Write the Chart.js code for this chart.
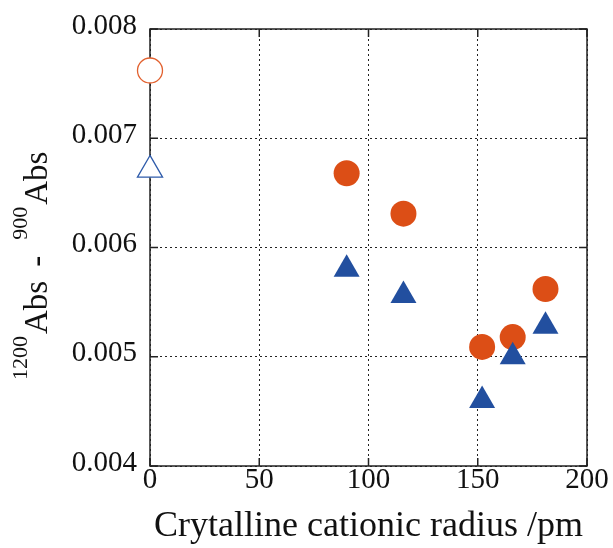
<!DOCTYPE html>
<html>
<head>
<meta charset="utf-8">
<script src="https://cdn.jsdelivr.net/npm/chart.js@4/dist/chart.umd.min.js"></script>
<style>
  html, body { margin: 0; padding: 0; background: #fff; }
  #wrap { width: 613px; height: 548px; }
</style>
</head>
<body>
<div id="wrap"><canvas id="chart" width="613" height="548"></canvas></div>
<script>
// Data
const radiusX     = [90, 116, 152, 166, 181];
const circleY     = [0.00668, 0.00631, 0.00509, 0.00518, 0.00562];
const triangleY   = [0.00580, 0.00556, 0.00460, 0.00500, 0.00528];
const refX        = [0];
const refCircleY  = [0.00762];
const refTriangleY = [0.00671];
const xTicks = [0, 50, 100, 150, 200];
const yTicks = [0.004, 0.005, 0.006, 0.007, 0.008];

const SERIF = "'Liberation Serif', 'Times New Roman', serif";
const ORANGE = '#DC4E16';
const BLUE = '#224F9F';

function pts(xs, ys) { return xs.map((x, i) => ({ x: x, y: ys[i] })); }

// frame + inward tick marks
const framePlugin = {
  id: 'frame',
  beforeDatasetsDraw(chart) {
    const { ctx, chartArea: a, scales } = chart;
    ctx.save();
    ctx.strokeStyle = '#222';
    ctx.lineWidth = 1.5;
    ctx.strokeRect(a.left, a.top, a.right - a.left, a.bottom - a.top);
    ctx.beginPath();
    yTicks.forEach(v => {
      const y = scales.y.getPixelForValue(v);
      ctx.moveTo(a.left, y);  ctx.lineTo(a.left + 8, y);
      ctx.moveTo(a.right, y); ctx.lineTo(a.right - 8, y);
    });
    xTicks.forEach(v => {
      const x = scales.x.getPixelForValue(v);
      ctx.moveTo(x, a.bottom); ctx.lineTo(x, a.bottom - 8);
      ctx.moveTo(x, a.top);    ctx.lineTo(x, a.top + 8);
    });
    ctx.stroke();
    ctx.restore();
  }
};

// y title with superscripts: 1200Abs - 900Abs
const yTitlePlugin = {
  id: 'ytitle',
  afterDraw(chart) {
    const { ctx, chartArea: a } = chart;
    const big = '33px ' + SERIF, small = '22px ' + SERIF;
    const parts = [
      { t: '1200', f: small, dy: -20, gap: 2 },
      { t: 'Abs', f: big, dy: 0, gap: 14 },
      { t: '-', f: big, dy: 0, gap: 16 },
      { t: '900', f: small, dy: -20, gap: 2 },
      { t: 'Abs', f: big, dy: 0, gap: 0 }
    ];
    ctx.save();
    ctx.fillStyle = '#111';
    ctx.textBaseline = 'alphabetic';
    ctx.translate(47, a.bottom - 86);
    ctx.rotate(-Math.PI / 2);
    let x = 0;
    parts.forEach(p => {
      ctx.font = p.f;
      ctx.fillText(p.t, x, p.dy);
      x += ctx.measureText(p.t).width + p.gap;
    });
    ctx.restore();
  }
};

const gridOpts = { color: '#222', lineWidth: 1, drawTicks: false };
const borderOpts = { display: false, dash: [2, 3] };

new Chart(document.getElementById('chart'), {
  type: 'scatter',
  data: {
    datasets: [
      { data: pts(radiusX, triangleY), pointStyle: 'triangle', pointRadius: 15,
        backgroundColor: BLUE, borderColor: BLUE, borderWidth: 0, clip: false },
      { data: pts(radiusX, circleY), pointStyle: 'circle', pointRadius: 13,
        backgroundColor: ORANGE, borderColor: ORANGE, borderWidth: 0, clip: false },
      { data: pts(refX, refTriangleY), pointStyle: 'triangle', pointRadius: 14.5,
        backgroundColor: '#fff', borderColor: '#2E5BAA', borderWidth: 1.3, clip: false },
      { data: pts(refX, refCircleY), pointStyle: 'circle', pointRadius: 12.5,
        backgroundColor: '#fff', borderColor: '#E2612F', borderWidth: 1.3, clip: false }
    ]
  },
  options: {
    responsive: false,
    animation: false,
    layout: { padding: { left: 0, right: 26, top: 29, bottom: 0 } },
    plugins: { legend: { display: false }, tooltip: { enabled: false } },
    scales: {
      x: {
        type: 'linear', min: 0, max: 200,
        afterBuildTicks: s => { s.ticks = xTicks.map(v => ({ value: v })); },
        afterFit: s => { s.height = 82; },
        grid: gridOpts, border: borderOpts,
        ticks: { color: '#111', padding: 0, maxRotation: 0,
                 font: { family: SERIF, size: 29, lineHeight: 1 } },
        title: { display: true, text: 'Crytalline cationic radius /pm', color: '#111',
                 padding: { top: 0, bottom: 3 },
                 font: { family: SERIF, size: 36, lineHeight: 1 } }
      },
      y: {
        type: 'linear', min: 0.004, max: 0.008,
        afterBuildTicks: s => { s.ticks = yTicks.map(v => ({ value: v })); },
        afterFit: s => { s.width = 150; },
        grid: gridOpts, border: borderOpts,
        ticks: { color: '#111', padding: 13, labelOffset: -3,
                 font: { family: SERIF, size: 29, lineHeight: 1 },
                 callback: v => v.toFixed(3) }
      }
    }
  },
  plugins: [framePlugin, yTitlePlugin]
});
</script>
</body>
</html>
